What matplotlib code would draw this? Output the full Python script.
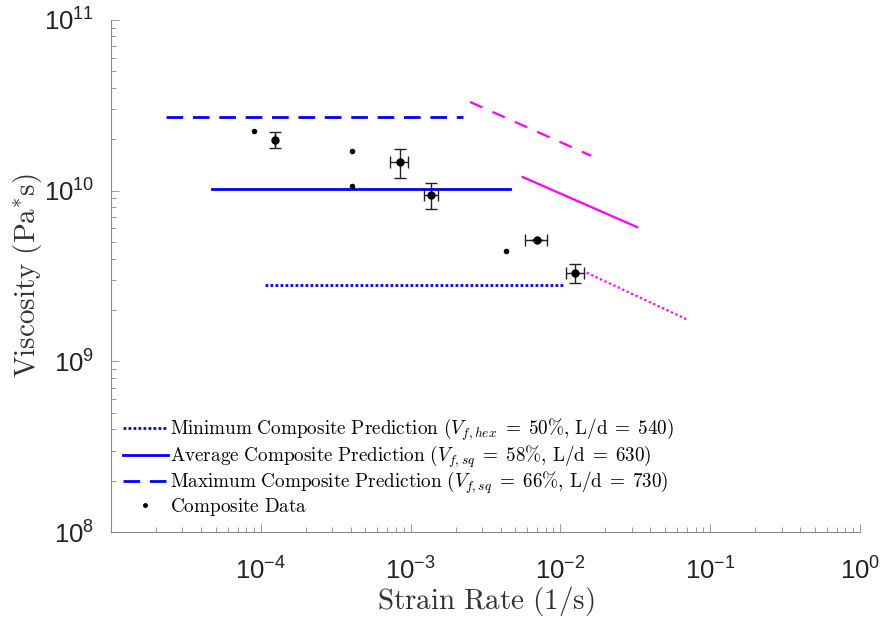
import matplotlib
matplotlib.use("Agg")
import matplotlib.pyplot as plt
from matplotlib.font_manager import FontProperties
from matplotlib.lines import Line2D
from matplotlib.ticker import LogLocator, LogFormatterSciNotation, NullFormatter

plt.rcParams['font.family'] = ['Liberation Sans', 'DejaVu Sans']
plt.rcParams['mathtext.fontset'] = 'cm'

# composite predictions (flat region, strain rate in 1/s, viscosity in Pa*s)
pred_names = ['Minimum', 'Average', 'Maximum']
pred_labels = [
    r'$\mathrm{Minimum\ Composite\ Prediction\ (}V_{f,hex}\;=\;\mathrm{50\%,\,L/d}\;=\;\mathrm{540)}$',
    r'$\mathrm{Average\ Composite\ Prediction\ (}V_{f,sq}\;=\;\mathrm{58\%,\,L/d}\;=\;\mathrm{630)}$',
    r'$\mathrm{Maximum\ Composite\ Prediction\ (}V_{f,sq}\;=\;\mathrm{66\%,\,L/d}\;=\;\mathrm{730)}$',
]
flat_rate = [[1.06e-4, 1.05e-2], [4.7e-5, 4.6e-3], [2.33e-5, 2.25e-3]]
flat_visc = [2.8e9, 1.02e10, 2.7e10]
# shear-thinning continuation of each prediction
thin_rate = [[1.5e-2, 7.1e-2], [5.6e-3, 3.26e-2], [2.5e-3, 1.6e-2]]
thin_visc = [[3.3e9, 1.75e9], [1.2e10, 6.1e9], [3.3e10, 1.6e10]]

# composite data without error bars
dot_rate = [9.0e-5, 4.05e-4, 4.05e-4, 4.36e-3]
dot_visc = [2.24e10, 1.71e10, 1.07e10, 4.4e9]

# composite data with error bars
eb_rate = [1.24e-4, 8.45e-4, 1.38e-3, 7.0e-3, 1.26e-2]
eb_visc = [1.99e10, 1.46e10, 9.45e9, 5.15e9, 3.3e9]
eb_rate_err = [0.0, 1.2e-4, 1.5e-4, 1.2e-3, 1.7e-3]
eb_visc_err = [0.21e10, 0.28e10, 1.6e9, 0.0, 0.43e9]

blue = '#0000ff'
magenta = '#ff00ff'
styles = [dict(dashes=(1, 0.8), lw=2.0),
          dict(ls='-', lw=2.0),
          dict(dashes=(6, 3.5), lw=2.0)]
thin_styles = [dict(dashes=(1, 1.2), lw=1.6),
               dict(ls='-', lw=1.6),
               dict(dashes=(6, 5), lw=1.6)]

fig = plt.figure(figsize=(8.81, 6.18), dpi=100)
ax = fig.add_axes([0.126, 0.139, 0.85, 0.829])

handles = []
for i in range(3):
    h, = ax.plot(flat_rate[i], [flat_visc[i]] * 2, color=blue, **styles[i])
    handles.append(h)
    ax.plot(thin_rate[i], thin_visc[i], color=magenta, **thin_styles[i])

ax.plot(dot_rate, dot_visc, 'o', color='black', ms=4, mew=0)
ax.errorbar(eb_rate, eb_visc, xerr=eb_rate_err, yerr=eb_visc_err, fmt='o',
            color='black', ecolor='#222222', ms=5, elinewidth=1.0,
            capsize=4, capthick=1.0)

ax.set_xscale('log')
ax.set_yscale('log')
ax.set_xlim(1e-5, 1e0)
ax.set_ylim(1e8, 1e11)

ax.xaxis.set_major_locator(LogLocator(base=10, numticks=10))
ax.yaxis.set_major_locator(LogLocator(base=10, numticks=10))
ax.xaxis.set_minor_locator(LogLocator(base=10, subs=range(2, 10), numticks=20))
ax.yaxis.set_minor_locator(LogLocator(base=10, subs=range(2, 10), numticks=20))
ax.xaxis.set_major_formatter(LogFormatterSciNotation())
ax.yaxis.set_major_formatter(LogFormatterSciNotation())
ax.xaxis.set_minor_formatter(NullFormatter())
ax.yaxis.set_minor_formatter(NullFormatter())
ax.set_xticks([1e-4, 1e-3, 1e-2, 1e-1, 1e0])

for s in ['top', 'right']:
    ax.spines[s].set_visible(False)
for s in ['left', 'bottom']:
    ax.spines[s].set_color('#888888')
    ax.spines[s].set_linewidth(0.8)
ax.tick_params(which='both', direction='in', color='#888888', width=0.6)
ax.tick_params(which='major', length=6, labelsize=18.5, labelcolor='#222222')
ax.tick_params(axis='x', which='major', pad=18)
ax.tick_params(axis='y', which='major', pad=12)
ax.tick_params(which='minor', length=3.5)

ax.set_xlabel(r'$\mathrm{Strain\ Rate\ (1/s)}$', fontsize=21, color='#333333', labelpad=0)
ax.set_ylabel(r'$\mathrm{Viscosity\ (Pa}^{*}\mathrm{s)}$', fontsize=21, color='#333333', labelpad=0)

data_handle = Line2D([], [], ls='none', marker='o', ms=2.5, color='black')
ax.legend(handles + [data_handle], pred_labels + [r'$\mathrm{Composite\ Data}$'],
          loc='lower left', bbox_to_anchor=(0.0, 0.005), frameon=False,
          prop=FontProperties(size=13.8), handlelength=2.35, handletextpad=0.15,
          labelspacing=0.0, borderaxespad=0.3, borderpad=0.3)

fig.savefig('out.png', dpi=100)
